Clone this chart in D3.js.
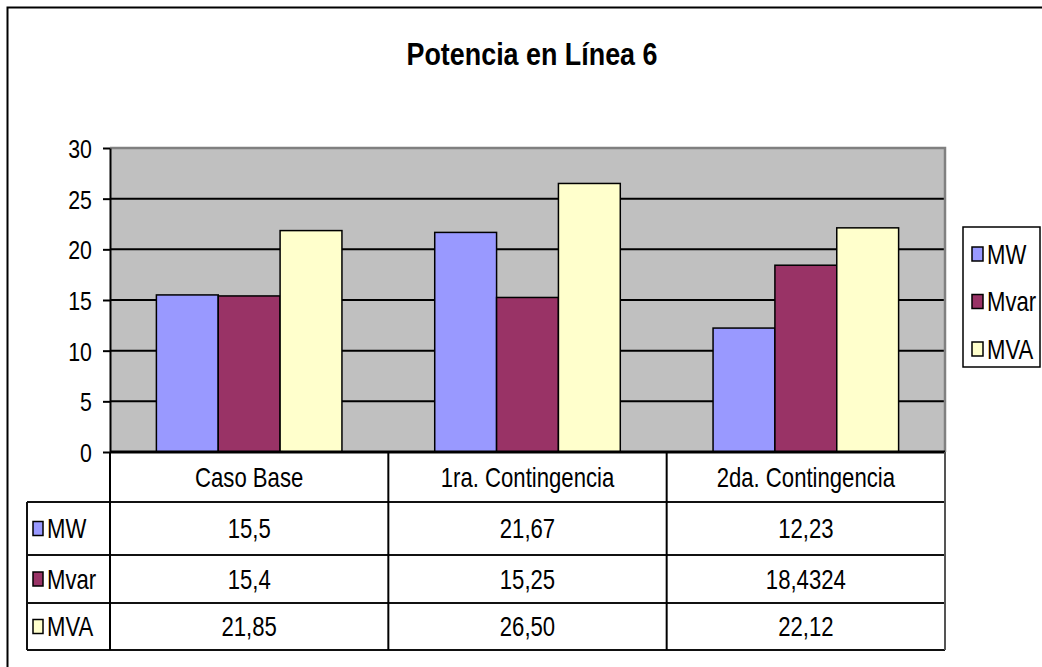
<!DOCTYPE html>
<html>
<head>
<meta charset="utf-8">
<script src="https://cdn.jsdelivr.net/npm/d3@7"></script>
<style>
  html, body { margin: 0; padding: 0; background: #fff; }
  svg { display: block; }
  text { font-family: "Liberation Sans", Arial, sans-serif; fill: #000; }
</style>
</head>
<body>
<svg id="chart" width="1042" height="667"></svg>
<script>
// Chart data
const title = "Potencia en Línea 6";
const categories = ["Caso Base", "1ra. Contingencia", "2da. Contingencia"];
const seriesNames = ["MW", "Mvar", "MVA"];
const seriesColors = ["#9999FF", "#993366", "#FFFFCC"];
// Values as printed in the data table (comma decimal separator)
const mwLabels = ["15,5", "21,67", "12,23"];
const mvarLabels = ["15,4", "15,25", "18,4324"];
const mvaLabels = ["21,85", "26,50", "22,12"];
const yTicks = [0, 5, 10, 15, 20, 25, 30];

const toNumber = s => parseFloat(s.replace(",", "."));
const seriesLabels = [mwLabels, mvarLabels, mvaLabels];
const seriesValues = seriesLabels.map(arr => arr.map(toNumber));

const svg = d3.select("#chart");
const SX = 0.82;      // narrow text rendering
const FS = "27px";    // body text size

// Layout
const plot = { left: 110, right: 945, top: 148, bottom: 452 };
const rows = [502, 555, 603, 650];
const tableLeft = 27;

// Outer frame
svg.append("rect")
  .attr("x", 7.5).attr("y", 7.5).attr("width", 1100).attr("height", 700)
  .attr("fill", "#fff").attr("stroke", "#000").attr("stroke-width", 2);

// Title
svg.append("text")
  .attr("transform", `translate(532,65) scale(0.84,1)`)
  .attr("text-anchor", "middle")
  .style("font-size", "32px").style("font-weight", "bold")
  .text(title);

// Scales
const x0 = d3.scaleBand().domain(categories).range([plot.left, plot.right]).padding(0);
const x1 = d3.scaleBand().domain(seriesNames).range([0, x0.bandwidth()])
  .paddingInner(0).paddingOuter(0.75);
const y = d3.scaleLinear().domain([0, 30]).range([plot.bottom, plot.top]);

// Plot background
svg.append("rect")
  .attr("x", plot.left).attr("y", plot.top)
  .attr("width", plot.right - plot.left).attr("height", plot.bottom - plot.top)
  .attr("fill", "#C0C0C0");

// Gridlines
svg.append("g").selectAll("line")
  .data(yTicks.filter(t => t > 0 && t < 30))
  .join("line")
  .attr("x1", plot.left).attr("x2", plot.right)
  .attr("y1", d => y(d)).attr("y2", d => y(d))
  .attr("stroke", "#000").attr("stroke-width", 2);

// Plot top and right borders
svg.append("path")
  .attr("d", `M${plot.left},${y(30)}H${plot.right}V${plot.bottom}`)
  .attr("fill", "none").attr("stroke", "#808080").attr("stroke-width", 2.5);

// Bars
const groups = svg.append("g").selectAll("g")
  .data(categories)
  .join("g")
  .attr("transform", d => `translate(${x0(d)},0)`);

groups.selectAll("rect")
  .data((c, ci) => seriesNames.map((s, si) => ({ s, si, v: seriesValues[si][ci] })))
  .join("rect")
  .attr("x", d => x1(d.s))
  .attr("width", x1.bandwidth())
  .attr("y", d => y(d.v))
  .attr("height", d => y(0) - y(d.v))
  .attr("fill", d => seriesColors[d.si])
  .attr("stroke", "#000").attr("stroke-width", 1.5);

// Y axis
const yAxis = svg.append("g")
  .attr("transform", `translate(${plot.left},0)`)
  .call(d3.axisLeft(y).tickValues(yTicks).tickSize(7).tickSizeOuter(0));
yAxis.select(".domain").attr("stroke", "#000").attr("stroke-width", 2);
yAxis.selectAll(".tick line").attr("stroke", "#000").attr("stroke-width", 2);
yAxis.selectAll(".tick text")
  .attr("x", -22).attr("dy", "0.36em")
  .attr("transform", `scale(${SX},1)`)
  .style("font-size", "26px").style("font-family", "'Liberation Sans', Arial, sans-serif")
  .attr("fill", "#000");

// Data table
const tbl = svg.append("g");
const lineColor = "#111";
// horizontal lines
tbl.append("line").attr("x1", plot.left).attr("x2", plot.right)
  .attr("y1", plot.bottom).attr("y2", plot.bottom)
  .attr("stroke", "#000").attr("stroke-width", 3);
rows.forEach(r => {
  tbl.append("line").attr("x1", tableLeft).attr("x2", plot.right)
    .attr("y1", r).attr("y2", r)
    .attr("stroke", lineColor).attr("stroke-width", 2);
});
// vertical lines
tbl.append("line").attr("x1", tableLeft).attr("x2", tableLeft)
  .attr("y1", rows[0]).attr("y2", rows[3]).attr("stroke", lineColor).attr("stroke-width", 2);
categories.forEach(c => {
  tbl.append("line").attr("x1", x0(c)).attr("x2", x0(c))
    .attr("y1", plot.bottom).attr("y2", rows[3])
    .attr("stroke", "#000").attr("stroke-width", 2);
});
tbl.append("line").attr("x1", plot.right).attr("x2", plot.right)
  .attr("y1", plot.bottom).attr("y2", rows[3]).attr("stroke", "#555").attr("stroke-width", 2);

// header text
categories.forEach(c => {
  tbl.append("text")
    .attr("transform", `translate(${x0(c) + x0.bandwidth() / 2},${(plot.bottom + rows[0]) / 2 + 9.5}) scale(${SX},1)`)
    .attr("text-anchor", "middle").style("font-size", FS)
    .text(c);
});

// series rows
seriesNames.forEach((s, si) => {
  const top = rows[si], bottom = rows[si + 1];
  const cy = (top + bottom) / 2;
  tbl.append("rect")
    .attr("x", 33).attr("y", cy - 7).attr("width", 10).attr("height", 14)
    .attr("fill", seriesColors[si]).attr("stroke", "#000").attr("stroke-width", 1.5);
  tbl.append("text")
    .attr("transform", `translate(47,${cy + 9.5}) scale(${SX},1)`)
    .style("font-size", FS).text(s);
  categories.forEach((c, ci) => {
    tbl.append("text")
      .attr("transform", `translate(${x0(c) + x0.bandwidth() / 2},${cy + 9.5}) scale(${SX},1)`)
      .attr("text-anchor", "middle").style("font-size", FS)
      .text(seriesLabels[si][ci]);
  });
});

// Legend
const legend = svg.append("g");
legend.append("rect")
  .attr("x", 963).attr("y", 227).attr("width", 77).attr("height", 140)
  .attr("fill", "#fff").attr("stroke", "#000").attr("stroke-width", 1.5);
seriesNames.forEach((s, si) => {
  const cy = 254 + si * 47.5;
  legend.append("rect")
    .attr("x", 972).attr("y", cy - 7).attr("width", 11).attr("height", 14)
    .attr("fill", seriesColors[si]).attr("stroke", "#000").attr("stroke-width", 1.5);
  legend.append("text")
    .attr("transform", `translate(987,${cy + 9.5}) scale(${SX},1)`)
    .style("font-size", FS).text(s);
});
</script>
</body>
</html>
